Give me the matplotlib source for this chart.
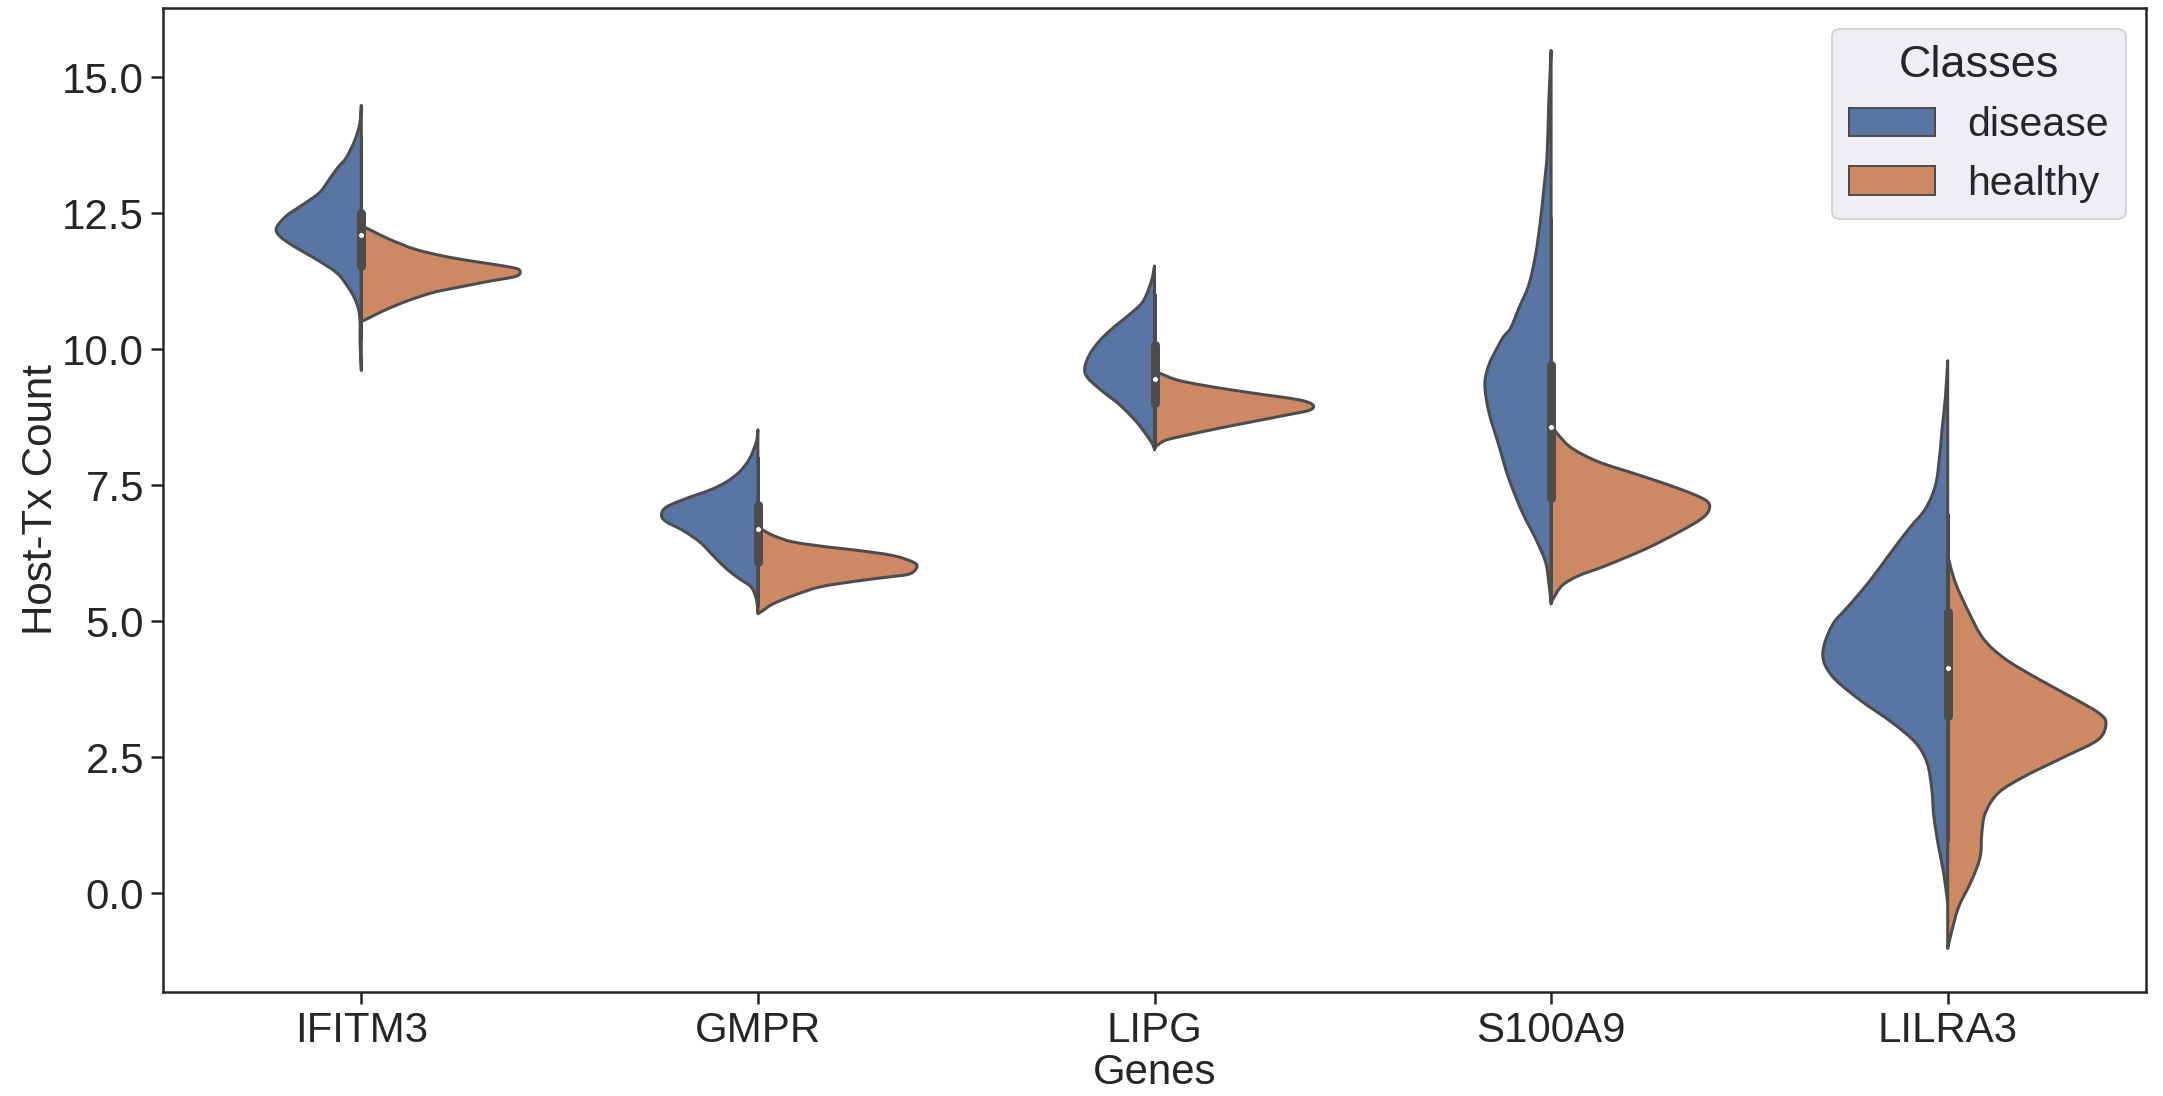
import matplotlib
matplotlib.use("Agg")
import matplotlib.pyplot as plt
from matplotlib.patches import Patch, PathPatch
from matplotlib.path import Path

plt.rcParams['font.family'] = ['Liberation Sans', 'DejaVu Sans']

genes = ["IFITM3", "GMPR", "LIPG", "S100A9", "LILRA3"]
classes = ["disease", "healthy"]
colors = ["#5975a4", "#cc8963"]
gray = "#4c4c4c"

# density outlines: y values and half widths (x units)
ifitm3_disease_y = [14.48, 14.14, 13.83, 13.52, 13.34, 13.13, 12.88, 12.66, 12.45, 12.23,
                    12.08, 11.90, 11.65, 11.41, 11.19, 10.94, 10.70, 10.45, 10.08, 9.61]
ifitm3_disease_w = [0, .004, .017, .038, .059, .080, .105, .147, .189, .214,
                    .206, .172, .113, .063, .038, .017, .006, .003, .003, 0]
ifitm3_healthy_y = [12.27, 12.17, 12.02, 11.83, 11.69, 11.59, 11.50, 11.44, 11.34, 11.25,
                    11.13, 11.04, 10.88, 10.70, 10.58, 10.51]
ifitm3_healthy_w = [0, .029, .071, .139, .222, .306, .382, .400, .390, .323,
                    .239, .180, .113, .054, .021, 0]

gmpr_disease_y = [8.52, 8.30, 7.99, 7.75, 7.56, 7.41, 7.26, 7.10, 6.95, 6.83,
                  6.67, 6.46, 6.21, 5.97, 5.78, 5.63, 5.41, 5.17]
gmpr_disease_w = [0, .004, .021, .046, .080, .122, .180, .231, .243, .231,
                  .189, .147, .113, .080, .046, .017, .004, 0]
gmpr_healthy_y = [6.73, 6.58, 6.46, 6.37, 6.30, 6.21, 6.09, 6.00, 5.87, 5.81,
                  5.73, 5.63, 5.47, 5.32, 5.20, 5.14]
gmpr_healthy_w = [0, .038, .088, .172, .256, .340, .391, .401, .382, .323,
                  .239, .155, .088, .038, .013, 0]

lipg_disease_y = [11.53, 11.25, 10.88, 10.64, 10.39, 10.15, 9.90, 9.65, 9.47, 9.22,
                  8.98, 8.67, 8.39, 8.24, 8.15]
lipg_disease_w = [0, .008, .029, .063, .105, .139, .164, .176, .168, .130,
                  .088, .046, .017, .004, 0]
lipg_healthy_y = [9.59, 9.56, 9.44, 9.35, 9.25, 9.16, 9.07, 8.98, 8.88, 8.79,
                  8.67, 8.55, 8.42, 8.33, 8.24, 8.18]
lipg_healthy_w = [0, .013, .055, .113, .197, .281, .365, .399, .391, .332,
                  .248, .164, .080, .029, .008, 0]

s100a9_disease_y = [15.49, 14.51, 13.59, 12.97, 12.36, 11.74, 11.19, 10.76, 10.39, 10.24,
                    10.08, 9.71, 9.35, 8.85, 8.24, 7.63, 7.01, 6.52, 6.09, 5.72, 5.35]
s100a9_disease_w = [0, .006, .010, .018, .027, .039, .056, .081, .102, .119,
                    .132, .157, .167, .157, .132, .107, .073, .039, .014, .006, 0]
s100a9_healthy_y = [8.61, 8.42, 8.18, 7.93, 7.69, 7.44, 7.23, 7.07, 6.89, 6.64,
                    6.33, 6.02, 5.84, 5.66, 5.41, 5.32]
s100a9_healthy_w = [0, .019, .053, .120, .221, .322, .389, .399, .380, .322,
                    .238, .137, .070, .028, .005, 0]

lilra3_disease_y = [9.79, 9.10, 8.55, 7.99, 7.50, 7.07, 6.70, 6.21, 5.72, 5.29, 4.92,
                    4.40, 4.00, 3.57, 3.14, 2.77, 2.40, 1.91, 1.42, 0.86, 0.37, -0.18]
lilra3_disease_w = [0, .006, .014, .021, .031, .056, .098, .149, .199, .249, .292,
                    .315, .292, .224, .140, .081, .052, .040, .035, .023, .010, 0]
lilra3_healthy_y = [6.21, 5.72, 5.17, 4.68, 4.31, 3.94, 3.57, 3.32, 3.14, 2.83,
                    2.52, 2.16, 1.85, 1.48, 1.11, 0.68, 0.25, -0.24, -0.67, -1.01]
lilra3_healthy_w = [0, .019, .053, .090, .145, .229, .322, .380, .399, .380,
                    .297, .196, .128, .095, .086, .082, .061, .028, .011, 0]

# inner box stats per gene
box_q1 = [11.53, 6.09, 9.01, 7.26, 3.26]
box_med = [12.10, 6.70, 9.46, 8.58, 4.15]
box_q3 = [12.51, 7.13, 10.08, 9.71, 5.17]
whisk_lo = [10.2, 5.3, 8.2, 5.4, 0.99]
whisk_hi = [13.9, 8.0, 11.0, 12.4, 6.95]

profiles = [
    [(ifitm3_disease_y, ifitm3_disease_w), (ifitm3_healthy_y, ifitm3_healthy_w)],
    [(gmpr_disease_y, gmpr_disease_w), (gmpr_healthy_y, gmpr_healthy_w)],
    [(lipg_disease_y, lipg_disease_w), (lipg_healthy_y, lipg_healthy_w)],
    [(s100a9_disease_y, s100a9_disease_w), (s100a9_healthy_y, s100a9_healthy_w)],
    [(lilra3_disease_y, lilra3_disease_w), (lilra3_healthy_y, lilra3_healthy_w)],
]


def half_violin(ax, pos, ys, ws, side, color):
    # smooth outline through the read points, closed along the centre line
    pts = [(pos + side * w, y) for y, w in zip(ys, ws)]
    verts = [pts[0]]
    codes = [Path.MOVETO]
    n = len(pts)
    for k in range(n - 1):
        p0 = pts[max(k - 1, 0)]
        p1 = pts[k]
        p2 = pts[k + 1]
        p3 = pts[min(k + 2, n - 1)]
        c1 = (p1[0] + (p2[0] - p0[0]) / 6, p1[1] + (p2[1] - p0[1]) / 6)
        c2 = (p2[0] - (p3[0] - p1[0]) / 6, p2[1] - (p3[1] - p1[1]) / 6)
        verts += [c1, c2, p2]
        codes += [Path.CURVE4] * 3
    verts += [(pos, ys[-1]), (pos, ys[0]), (pos, ys[0])]
    codes += [Path.LINETO, Path.LINETO, Path.CLOSEPOLY]
    ax.add_patch(PathPatch(Path(verts, codes), facecolor=color, edgecolor=gray,
                           linewidth=1.5, joinstyle="round"))


fig = plt.figure(figsize=(2163 / 144, 1096 / 144), dpi=144)
ax = fig.add_axes([163 / 2163, 1 - 992 / 1096, (2146 - 163) / 2163, (992 - 8) / 1096])

for i, gene in enumerate(genes):
    (dy, dw), (hy, hw) = profiles[i]
    half_violin(ax, i, dy, dw, -1, colors[0])
    half_violin(ax, i, hy, hw, 1, colors[1])
    ax.plot([i, i], [whisk_lo[i], whisk_hi[i]], color=gray, linewidth=1.5)
    ax.plot([i, i], [box_q1[i], box_q3[i]], color=gray, linewidth=4.5,
            solid_capstyle="round")
    ax.scatter([i], [box_med[i]], s=9, color="white", edgecolor=gray,
               linewidth=0.5, zorder=3)

ax.set_xlim(-0.5, 4.5)
ax.set_ylim(-1.81, 16.27)
ax.set_xticks(range(len(genes)))
ax.set_xticklabels(genes)
ax.set_yticks([0, 2.5, 5, 7.5, 10, 12.5, 15])
ax.set_yticklabels(["0.0", "2.5", "5.0", "7.5", "10.0", "12.5", "15.0"])
ax.tick_params(labelsize=21, length=6, width=1.25, colors="0.15")
for s in ax.spines.values():
    s.set_linewidth(1.25)
    s.set_color("0.15")
ax.set_xlabel("Genes", fontsize=21, color="0.15", labelpad=1)
ax.set_ylabel("Host-Tx Count", fontsize=21, color="0.15", labelpad=0.5)

handles = [Patch(facecolor=c, edgecolor=gray, linewidth=1.0, label=l)
           for c, l in zip(colors, classes)]
leg = ax.legend(handles=handles, title="Classes", loc="upper right", fontsize=20.5,
                title_fontsize=22.5, facecolor="#eaeaf2", edgecolor="#cccccc",
                framealpha=0.8, handlelength=2.1)
for t in leg.get_texts():
    t.set_color("0.15")
leg.get_title().set_color("0.15")

fig.savefig("out.png", dpi=144)
